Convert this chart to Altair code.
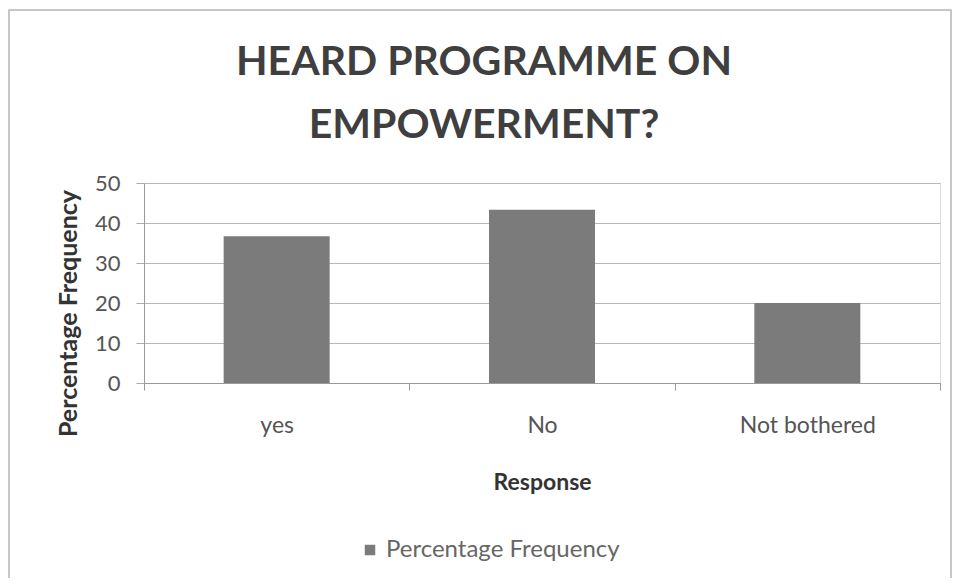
import altair as alt
import pandas as pd

categories = ["yes", "No", "Not bothered"]
values = [36.7, 43.3, 20.0]
series_name = "Percentage Frequency"

df = pd.DataFrame({"Response": categories, "value": values, "series": [series_name] * 3})

FONT = "Lato"
W, H = 796, 200

bars = alt.Chart(df).mark_bar(size=106, color="#7b7b7b").encode(
    x=alt.X("Response:N", sort=categories,
            scale=alt.Scale(paddingInner=0, paddingOuter=0),
            axis=alt.Axis(title="Response", labelAngle=0, tickBand="extent", tickSize=7,
                          labelFontSize=23, labelColor="#555555", labelFont=FONT, labelPadding=24,
                          titleFont=FONT, titleFontSize=23, titleFontWeight="bold", titleColor="#333333",
                          titleX=W / 2, titleY=99, titleBaseline="middle",
                          domainColor="#999999", tickColor="#999999", grid=False)),
    y=alt.Y("value:Q", scale=alt.Scale(domain=[0, 50]),
            axis=alt.Axis(title="Percentage Frequency", values=[0, 10, 20, 30, 40, 50], tickSize=8,
                          labelFontSize=22, labelColor="#555555", labelFont=FONT, labelPadding=16,
                          titleFont=FONT, titleFontSize=25, titleFontWeight="bold", titleColor="#333333",
                          titleX=-76, titleY=H / 2 + 30, titleAngle=-90, titleAlign="center", titleBaseline="middle",
                          domainColor="#999999", tickColor="#aaaaaa", gridColor="#b8b8b8", gridWidth=1.2)),
    fill=alt.Fill("series:N", scale=alt.Scale(range=["#7b7b7b"]),
                  legend=alt.Legend(title=None, orient="none", legendX=214, legendY=355,
                                    symbolType="square", symbolSize=110, symbolStrokeWidth=0,
                                    labelFont=FONT, labelFontSize=24, labelColor="#666666",
                                    labelLimit=500)),
)

frame = alt.Chart(pd.DataFrame({"f": [0]})).mark_rect(
    fill="transparent", stroke="#b5b5b5", strokeWidth=1.5
).encode(x=alt.value(-135), x2=alt.value(807), y=alt.value(-173), y2=alt.value(420))

chart = alt.layer(frame, bars).properties(
    width=W, height=H,
    title=alt.TitleParams(text=["HEARD PROGRAMME ON", "EMPOWERMENT?"], font=FONT, fontSize=41,
                          fontWeight="bold", color="#3f3f3f", anchor="middle", dx=-58, offset=25,
                          dy=163, lineHeight=63),
    autosize=alt.AutoSizeParams(type="none"),
    padding={"left": 136, "top": 175, "right": 12, "bottom": 195},
).configure_view(stroke=None).configure(background="white")

chart.save("out.html", embed_options={"renderer": "svg", "actions": False})
